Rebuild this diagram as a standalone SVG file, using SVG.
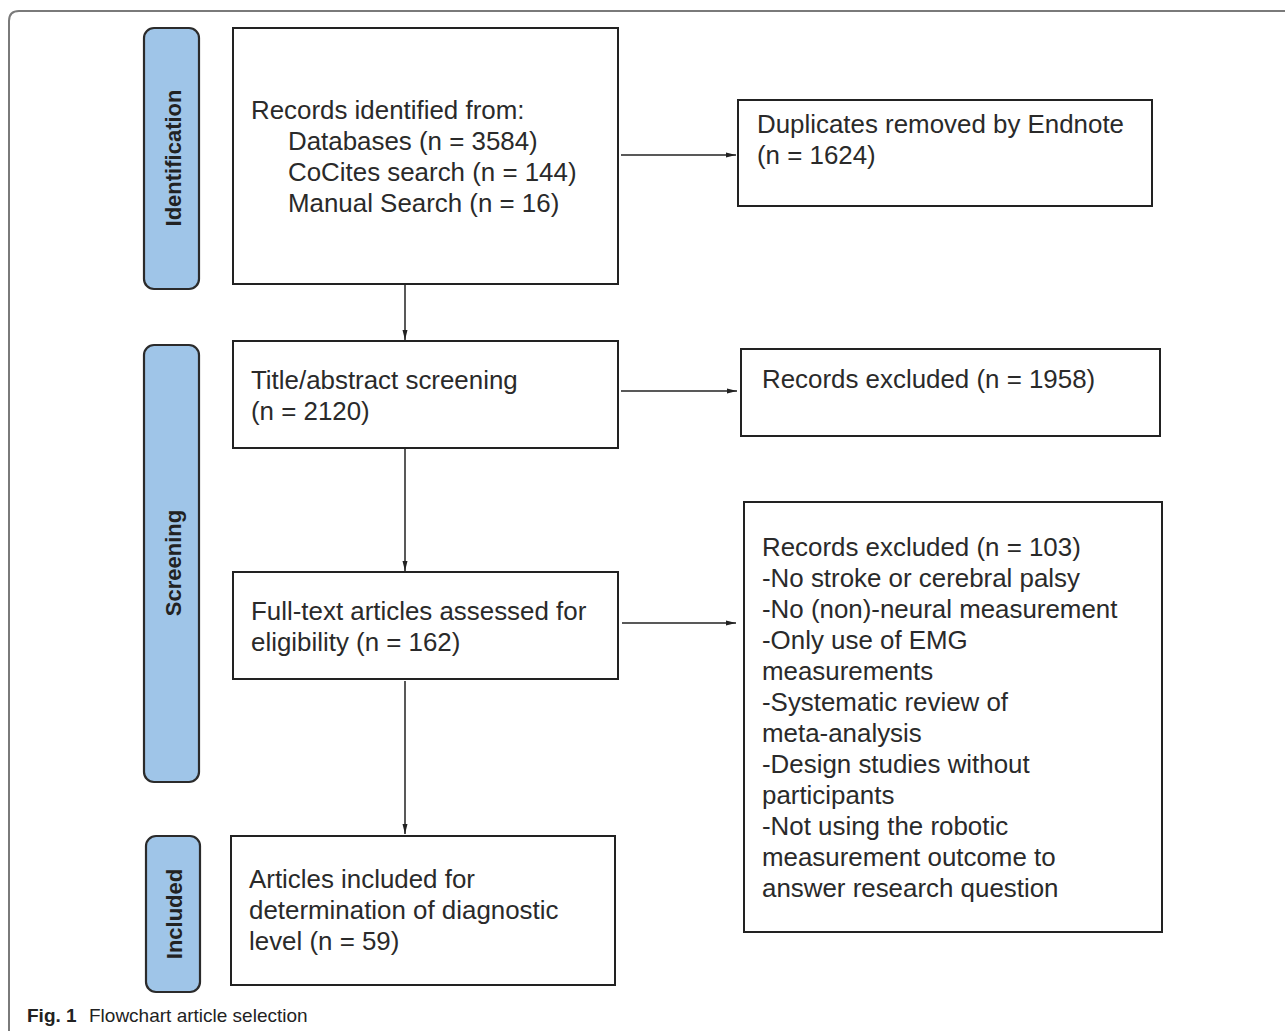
<svg xmlns="http://www.w3.org/2000/svg" width="1285" height="1031" viewBox="0 0 1285 1031">
<style>
.frame{fill:none;stroke:#7a7a7a;stroke-width:2}
.box{fill:#ffffff;stroke:#222;stroke-width:2}
.stage{fill:#9fc5e8;stroke:#2b2b2b;stroke-width:2.2}
.t{font-family:"Liberation Sans",Arial,sans-serif;font-size:25.9px;fill:#2a2a2a}
.lab{font-family:"Liberation Sans",Arial,sans-serif;font-size:22px;font-weight:bold;fill:#222;text-anchor:middle;dominant-baseline:central}
.conn{fill:none;stroke:#222;stroke-width:1.5}
.cap{font-family:"Liberation Sans",Arial,sans-serif;font-size:19px;fill:#222}
</style>
<defs>
<marker id="ah" markerWidth="10" markerHeight="8" refX="10" refY="4" orient="auto" markerUnits="userSpaceOnUse">
<path d="M0,1.5 L10,4 L0,6.5 Z" fill="#222"/>
</marker>
</defs>
<rect width="1285" height="1031" fill="#ffffff"/>
<path class="frame" d="M9,1040 L9,21 Q9,11 19,11 L1300,11"/>

<g id="stage-identification">
<rect class="stage" x="144" y="28" width="55" height="261" rx="10"/>
<text class="lab" transform="translate(173,158) rotate(-90)">Identification</text>
</g>
<g id="stage-screening">
<rect class="stage" x="144" y="345" width="55" height="437" rx="10"/>
<text class="lab" transform="translate(173,563) rotate(-90)">Screening</text>
</g>
<g id="stage-included">
<rect class="stage" x="146" y="836" width="54" height="156" rx="10"/>
<text class="lab" transform="translate(174,914) rotate(-90)">Included</text>
</g>

<g id="node-records">
<rect class="box" x="233" y="28" width="385" height="256"/>
<text class="t" x="251" y="119">Records identified from:</text>
<text class="t" x="288" y="150">Databases (n = 3584)</text>
<text class="t" x="288" y="181">CoCites search (n = 144)</text>
<text class="t" x="288" y="212">Manual Search (n = 16)</text>
</g>
<g id="node-duplicates">
<rect class="box" x="738" y="100" width="414" height="106"/>
<text class="t" x="757" y="133">Duplicates removed by Endnote</text>
<text class="t" x="757" y="164">(n = 1624)</text>
</g>
<g id="node-title">
<rect class="box" x="233" y="341" width="385" height="107"/>
<text class="t" x="251" y="389">Title/abstract screening</text>
<text class="t" x="251" y="420">(n = 2120)</text>
</g>
<g id="node-excluded1">
<rect class="box" x="741" y="349" width="419" height="87"/>
<text class="t" x="762" y="388">Records excluded (n = 1958)</text>
</g>
<g id="node-fulltext">
<rect class="box" x="233" y="572" width="385" height="107"/>
<text class="t" x="251" y="620">Full-text articles assessed for</text>
<text class="t" x="251" y="651">eligibility (n = 162)</text>
</g>
<g id="node-excluded2">
<rect class="box" x="744" y="502" width="418" height="430"/>
<text class="t" x="762" y="556">Records excluded (n = 103)</text>
<text class="t" x="762" y="587">-No stroke or cerebral palsy</text>
<text class="t" x="762" y="618">-No (non)-neural measurement</text>
<text class="t" x="762" y="649">-Only use of EMG</text>
<text class="t" x="762" y="680">measurements</text>
<text class="t" x="762" y="711">-Systematic review of</text>
<text class="t" x="762" y="742">meta-analysis</text>
<text class="t" x="762" y="773">-Design studies without</text>
<text class="t" x="762" y="804">participants</text>
<text class="t" x="762" y="835">-Not using the robotic</text>
<text class="t" x="762" y="866">measurement outcome to</text>
<text class="t" x="762" y="897">answer research question</text>
</g>
<g id="node-included">
<rect class="box" x="231" y="836" width="384" height="149"/>
<text class="t" x="249" y="888">Articles included for</text>
<text class="t" x="249" y="919">determination of diagnostic</text>
<text class="t" x="249" y="950">level (n = 59)</text>
</g>

<g id="connectors">
<line class="conn" x1="621" y1="155" x2="736" y2="155" marker-end="url(#ah)"/>
<line class="conn" x1="621" y1="391" x2="737" y2="391" marker-end="url(#ah)"/>
<line class="conn" x1="622" y1="623" x2="736" y2="623" marker-end="url(#ah)"/>
<line class="conn" x1="405" y1="285" x2="405" y2="340" marker-end="url(#ah)"/>
<line class="conn" x1="405" y1="449" x2="405" y2="571" marker-end="url(#ah)"/>
<line class="conn" x1="405" y1="681" x2="405" y2="834" marker-end="url(#ah)"/>
</g>

<g id="caption">
<text class="cap" x="27" y="1022"><tspan font-weight="bold">Fig. 1</tspan><tspan x="89">Flowchart article selection</tspan></text>
</g>
</svg>
